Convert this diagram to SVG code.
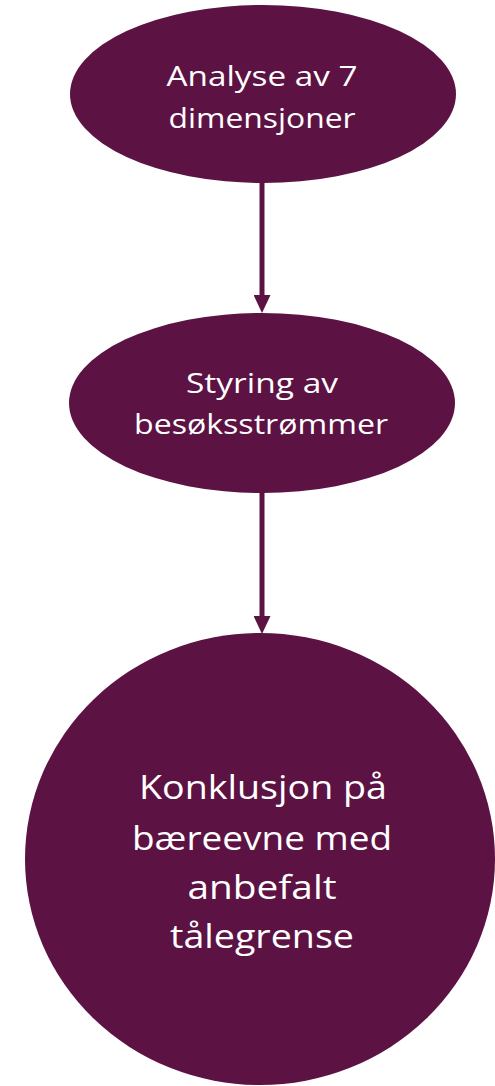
<svg xmlns="http://www.w3.org/2000/svg" width="495" height="1086" viewBox="0 0 495 1086">
  <style>
    .node { fill: #5C1242; }
    .lbl { fill: #FFFFFF; font-family: "Open Sans", "Noto Sans", "Liberation Sans", sans-serif; text-anchor: middle; }
    .s { font-size: 28px; }
    .b { font-size: 32px; }
    .edge { stroke: #5C1242; stroke-width: 5; fill: none; }
  </style>
  <defs>
    <marker id="arrow" viewBox="0 0 18 17" refX="5" refY="8.5" markerWidth="18" markerHeight="17" markerUnits="userSpaceOnUse" orient="auto">
      <path d="M0,0 L18,8.5 L0,17 Z" fill="#5C1242"/>
    </marker>
  </defs>
  <rect width="495" height="1086" fill="#FFFFFF"/>
  <g id="connectors">
    <line class="edge" x1="262" y1="180" x2="262" y2="300" marker-end="url(#arrow)"/>
    <line class="edge" x1="262" y1="490" x2="262" y2="621" marker-end="url(#arrow)"/>
  </g>
  <g id="node1">
    <ellipse class="node" cx="263" cy="94" rx="193" ry="89"/>
    <text class="lbl s" x="262" y="86" textLength="191" lengthAdjust="spacingAndGlyphs">Analyse av 7</text>
    <text class="lbl s" x="262" y="128" textLength="187" lengthAdjust="spacingAndGlyphs">dimensjoner</text>
  </g>
  <g id="node2">
    <ellipse class="node" cx="262" cy="403" rx="193" ry="90"/>
    <text class="lbl s" x="262" y="393" textLength="152" lengthAdjust="spacingAndGlyphs">Styring av</text>
    <text class="lbl s" x="261" y="434" textLength="254" lengthAdjust="spacingAndGlyphs">besøksstrømmer</text>
  </g>
  <g id="node3">
    <ellipse class="node" cx="260" cy="859" rx="235" ry="226"/>
    <text class="lbl b" x="263" y="799" textLength="248" lengthAdjust="spacingAndGlyphs">Konklusjon på</text>
    <text class="lbl b" x="262" y="850" textLength="260" lengthAdjust="spacingAndGlyphs">bæreevne med</text>
    <text class="lbl b" x="262" y="899" textLength="149" lengthAdjust="spacingAndGlyphs">anbefalt</text>
    <text class="lbl b" x="262" y="948" textLength="184" lengthAdjust="spacingAndGlyphs">tålegrense</text>
  </g>
</svg>
